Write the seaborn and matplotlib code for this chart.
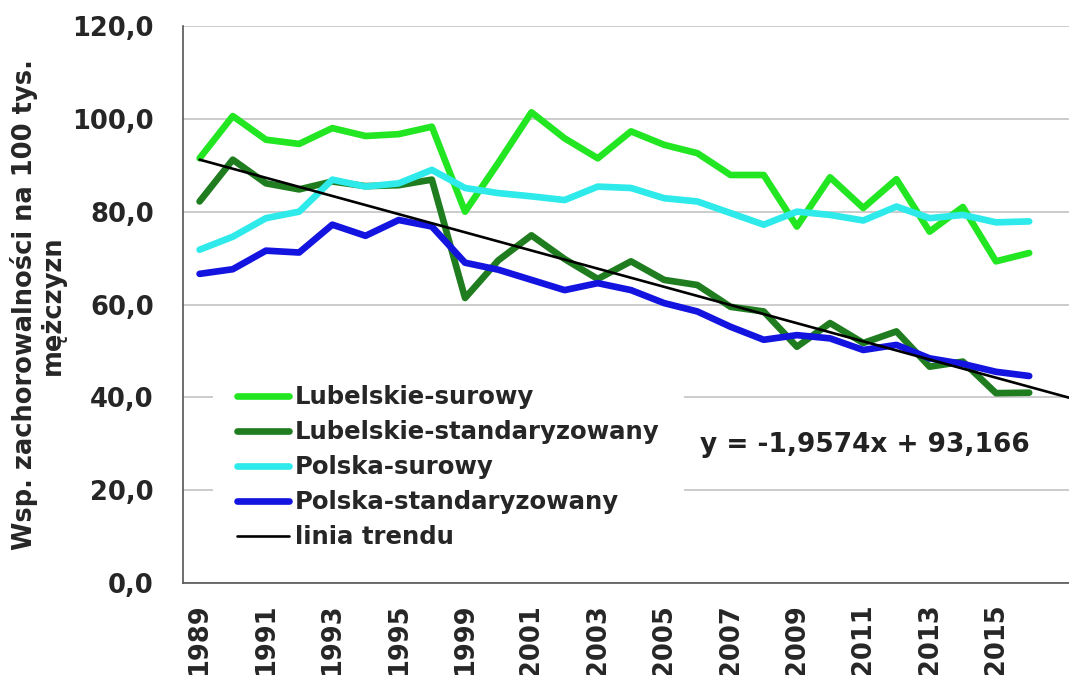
import numpy as np
import pandas as pd
import matplotlib
matplotlib.use("Agg")
import matplotlib.pyplot as plt
import seaborn as sns

# --- dane ---
lata = ["1989", "1990", "1991", "1992", "1993", "1994", "1995", "1996",
        "1999", "2000", "2001", "2002", "2003", "2004", "2005", "2006",
        "2007", "2008", "2009", "2010", "2011", "2012", "2013", "2014",
        "2015", "2016"]

lubelskie_surowy = [91.5, 100.6, 95.5, 94.6, 98.0, 96.3, 96.7, 98.3, 80.0, 90.5,
                    101.4, 95.8, 91.5, 97.3, 94.4, 92.6, 87.9, 87.9, 76.8, 87.4,
                    80.8, 87.0, 75.7, 81.0, 69.3, 71.1]
lubelskie_std = [82.2, 91.2, 86.1, 84.8, 86.5, 85.5, 85.7, 86.9, 61.4, 69.5,
                 74.9, 69.8, 65.5, 69.3, 65.3, 64.2, 59.5, 58.5, 50.9, 56.0,
                 51.7, 54.2, 46.6, 47.7, 40.9, 41.0]
polska_surowy = [71.8, 74.6, 78.6, 80.0, 86.9, 85.4, 86.1, 89.0, 85.1, 84.0,
                 83.3, 82.5, 85.4, 85.1, 82.9, 82.2, 79.7, 77.2, 80.0, 79.3,
                 78.1, 81.1, 78.6, 79.3, 77.7, 77.9]
polska_std = [66.6, 67.6, 71.6, 71.2, 77.2, 74.8, 78.2, 76.8, 69.0, 67.5,
              65.3, 63.1, 64.6, 63.1, 60.3, 58.5, 55.2, 52.4, 53.4, 52.7,
              50.2, 51.3, 48.4, 47.2, 45.5, 44.6]

# linia trendu z równania na wykresie (x = 1, 2, ...), prognoza do końca osi
trend_a = -1.9574
trend_b = 93.166
trend_okresy_prognozy = 1.2

serie = {
    "Lubelskie-surowy": lubelskie_surowy,
    "Lubelskie-standaryzowany": lubelskie_std,
    "Polska-surowy": polska_surowy,
    "Polska-standaryzowany": polska_std,
}
kolory = {
    "Lubelskie-surowy": "#22e622",
    "Lubelskie-standaryzowany": "#1f7d1f",
    "Polska-surowy": "#2eeaea",
    "Polska-standaryzowany": "#1414e0",
}

df = pd.DataFrame(serie)
df["idx"] = np.arange(len(lata))
df_long = df.melt(id_vars="idx", var_name="Seria", value_name="Wartosc")

n = len(lata)
trend_x = np.append(np.arange(n), n - 1 + trend_okresy_prognozy)
trend_y = trend_a * (trend_x + 1) + trend_b

sns.set_style("white")
plt.rcParams["font.family"] = ["DejaVu Sans"]
plt.rcParams["font.weight"] = "bold"

W, H = 1069, 675
fig = plt.figure(figsize=(W / 100, H / 100), dpi=100)
ax = fig.add_axes([183 / W, 1 - 583 / H, 1 - 183 / W, (583 - 26) / H])

sns.lineplot(data=df_long, x="idx", y="Wartosc", hue="Seria",
             hue_order=list(serie.keys()), palette=kolory,
             linewidth=4.8, ax=ax, legend=False, zorder=3)
sns.lineplot(x=trend_x, y=trend_y, color="black", linewidth=1.9, ax=ax, zorder=4)

ax.set_xlim(-0.5, n - 1 + trend_okresy_prognozy)
ax.set_ylim(0, 120)
ax.set_yticks(np.arange(0, 121, 20))
ax.set_yticklabels([f"{v:.1f}".replace(".", ",") for v in np.arange(0, 121, 20)],
                   fontsize=18.5, fontweight="bold")
ax.grid(axis="y", color="#c8c8c8", linewidth=1.3, zorder=0)
ax.set_axisbelow(True)

# kreski osi X między kategoriami, etykiety co druga kategoria
ax.set_xticks(np.arange(-0.5, n, 1))
ax.set_xticklabels([])
ax.set_xticks(np.arange(0, n, 2), minor=True)
ax.set_xticklabels(lata[::2], minor=True, rotation=90, fontsize=18.5,
                   fontweight="bold")
ax.tick_params(axis="x", which="major", direction="out", length=9, width=1.2,
               color="#555555")
ax.tick_params(axis="x", which="minor", length=0, pad=15)
ax.tick_params(axis="y", direction="out", length=9, width=1.2, color="#555555",
               pad=12)

for s in ["top", "right"]:
    ax.spines[s].set_visible(False)
for s in ["left", "bottom"]:
    ax.spines[s].set_color("#555555")
    ax.spines[s].set_linewidth(1.2)
ax.set_xlabel("")
ax.set_ylabel("")

fig.text(38 / W, 1 - 305 / H, "Wsp. zachorowalności na 100 tys.\nmężczyzn",
         rotation=90, ha="center", va="center", multialignment="center",
         fontsize=18.5, fontweight="bold", linespacing=1.05)

linie = ax.get_lines()
leg = ax.legend(linie, list(serie.keys()) + ["linia trendu"],
                loc="upper left", bbox_to_anchor=(213 / W, 1 - 361 / H),
                bbox_transform=fig.transFigure, borderaxespad=0,
                frameon=True, facecolor="white", edgecolor="none", framealpha=1,
                fontsize=17.6, handlelength=2.1, handletextpad=0.25,
                labelspacing=0.45, borderpad=1.0)
for t in leg.get_texts():
    t.set_fontweight("bold")
leg.set_zorder(5)

rownanie = (f"y = {trend_a:.4f}x + {trend_b:.3f}").replace(".", ",")
fig.text(700 / W, 1 - 445 / H, rownanie, ha="left", va="center",
         fontsize=19, fontweight="bold", color="#222222")

fig.savefig("out.png", dpi=100)
